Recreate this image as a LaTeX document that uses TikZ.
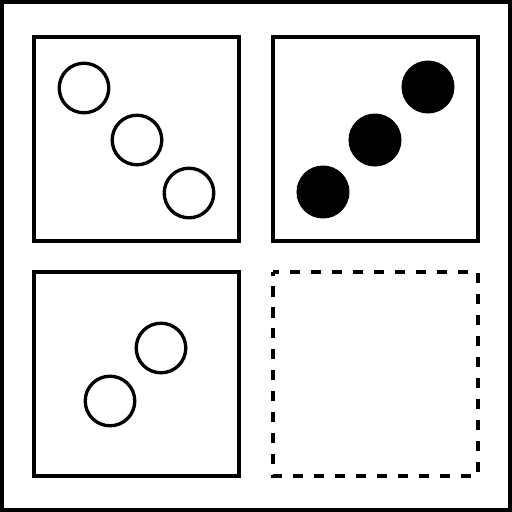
\documentclass[tikz,border=0pt]{standalone}
\usepackage{tikz}

\begin{document}
\begin{tikzpicture}[x=0.02cm, y=-0.02cm,
    panel/.style={line width=2pt},
    ring/.style={line width=1.9pt},
    blob/.style={fill=black}]
    \useasboundingbox (0, 0) rectangle (512, 512);

    % Outer frame
    \draw[line width=2.3pt] (2, 2) rectangle (510, 510);

    % Panels
    \draw[panel] (34, 37) rectangle (239, 241);
    \draw[panel] (273, 37) rectangle (478, 241);
    \draw[panel] (34, 272) rectangle (239, 476);
    \draw[panel, dash pattern=on 0.21cm off 0.21cm, dash phase=0.14cm] (273, 272) rectangle (478, 476);

    % Open circles, falling diagonal
    \draw[ring] (84, 88) circle (24.8);
    \draw[ring] (137, 140) circle (24.8);
    \draw[ring] (189, 193) circle (24.8);

    % Filled circles, rising diagonal
    \fill[blob] (428, 87) circle (26.5);
    \fill[blob] (375, 140) circle (26.5);
    \fill[blob] (323, 192) circle (26.5);

    % Two open circles
    \draw[ring] (161, 348) circle (24.8);
    \draw[ring] (110, 401) circle (24.8);
\end{tikzpicture}
\end{document}
